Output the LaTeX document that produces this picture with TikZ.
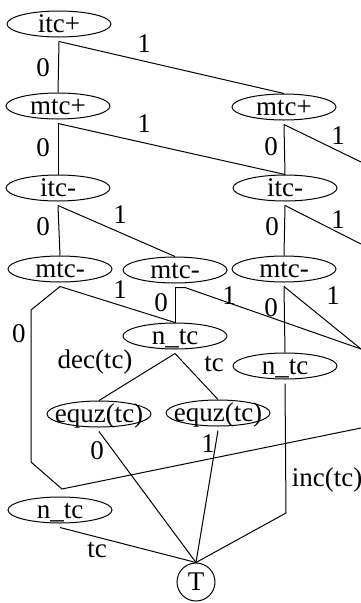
\documentclass[tikz,border=0pt]{standalone}
\usepackage{fontspec}
\setmainfont{Liberation Serif}
\usetikzlibrary{shapes.geometric}

\newcommand{\bddtext}[1]{\raisebox{-0.3em}[0pt][0pt]{\makebox[0pt]{#1}}}

\begin{document}
\begin{tikzpicture}[
    x=1pt, y=-1pt,
    line width=1pt,
    font=\fontsize{27}{30}\selectfont,
    every node/.style={inner sep=0pt},
    bdd/.style={
        draw,
        ellipse,
        minimum width=104pt,
        minimum height=26pt
    },
    leaf/.style={draw, circle, minimum size=38pt}
]
\useasboundingbox (0,0) rectangle (361,603);

% variable nodes
\node[bdd] (itcp) at (59,24) {\bddtext{itc+}};
\node[bdd] (mtcpl) at (58,106) {\bddtext{mtc+}};
\node[bdd] (mtcpr) at (284,107) {\bddtext{mtc+}};
\node[bdd] (itcml) at (58,188) {\bddtext{itc-}};
\node[bdd] (itcmr) at (285,188) {\bddtext{itc-}};
\node[bdd] (mtcml) at (60,269) {\bddtext{mtc-}};
\node[bdd] (mtcmm) at (175,270) {\bddtext{mtc-}};
\node[bdd] (mtcmr) at (284,269) {\bddtext{mtc-}};
\node[bdd] (ntcm) at (175,336) {\bddtext{n\_tc}};
\node[bdd] (ntcr) at (285,366) {\bddtext{n\_tc}};
\node[bdd] (equzl) at (99,414) {\bddtext{equz(tc)}};
\node[bdd] (equzm) at (218,413) {\bddtext{equz(tc)}};
\node[bdd] (ntcb) at (60,510) {\bddtext{n\_tc}};
% terminal
\node[leaf] (T) at (196,582) {T};

% edges leaving the picture on the right
\coordinate (outa) at (361,162);
\coordinate (outb) at (361,244);
\coordinate (outc) at (361,349);
\coordinate (outd) at (361,428);

% edges
\draw ([yshift=-4pt]itcp.south) -- (mtcpl.north) node at (43,68) {0};
\draw ([yshift=-4pt]itcp.south) -- (mtcpr.north) node at (144,44) {1};
\draw ([yshift=-4pt]mtcpl.south) -- (itcml.north) node at (43,148) {0};
\draw ([yshift=-4pt]mtcpl.south) -- (itcmr.north) node at (144,124) {1};
\draw ([yshift=-4pt]mtcpr.south) -- (itcmr.north) node at (271,147) {0};
\draw ([yshift=-4pt]mtcpr.south) -- (outa) node at (338,136) {1};
\draw ([yshift=-4pt]itcml.south) -- (mtcml.north) node at (43,227) {0};
\draw ([yshift=-4pt]itcml.south) -- (mtcmm.north) node at (120,215) {1};
\draw ([yshift=-4pt]itcmr.south) -- (mtcmr.north) node at (272,227) {0};
\draw ([yshift=-4pt]itcmr.south) -- (outb) node at (338,220) {1};
\draw ([yshift=-4pt]mtcml.south) -- (ntcm.north) node at (120,290) {1};
\draw ([yshift=-4pt]mtcml.south) -- (31,310) -- (31,462) -- (62,489) -- (outd)
    node at (19,334) {0};
\draw ([yshift=-4pt]mtcmm.south) -- (ntcm.north) node at (161,303) {0};
\draw ([yshift=-4pt]mtcmm.south) -- ++(10,0) -- (outc) node at (229,296) {1};
\draw ([yshift=-4pt]mtcmr.south) -- (ntcr.north) node at (271,308) {0};
\draw ([yshift=-4pt]mtcmr.south) -- (outc) node at (333,296) {1};
\draw ([yshift=-4pt]ntcm.south) -- (equzl.north) node at (95,362) {dec(tc)};
\draw ([yshift=-4pt]ntcm.south) -- (equzm.north) node at (214,364) {tc};
\draw ([yshift=-4pt]ntcr.south) -- (286,513) -- (T.north)
    node at (327,480) {inc(tc)};
\draw ([yshift=-4pt]equzl.south) -- (T.north) node at (97,451) {0};
\draw ([yshift=-4pt]equzm.south) -- (T.north) node at (208,444) {1};
\draw ([yshift=-4pt]ntcb.south) -- (T.north) node at (97,550) {tc};
\end{tikzpicture}
\end{document}
